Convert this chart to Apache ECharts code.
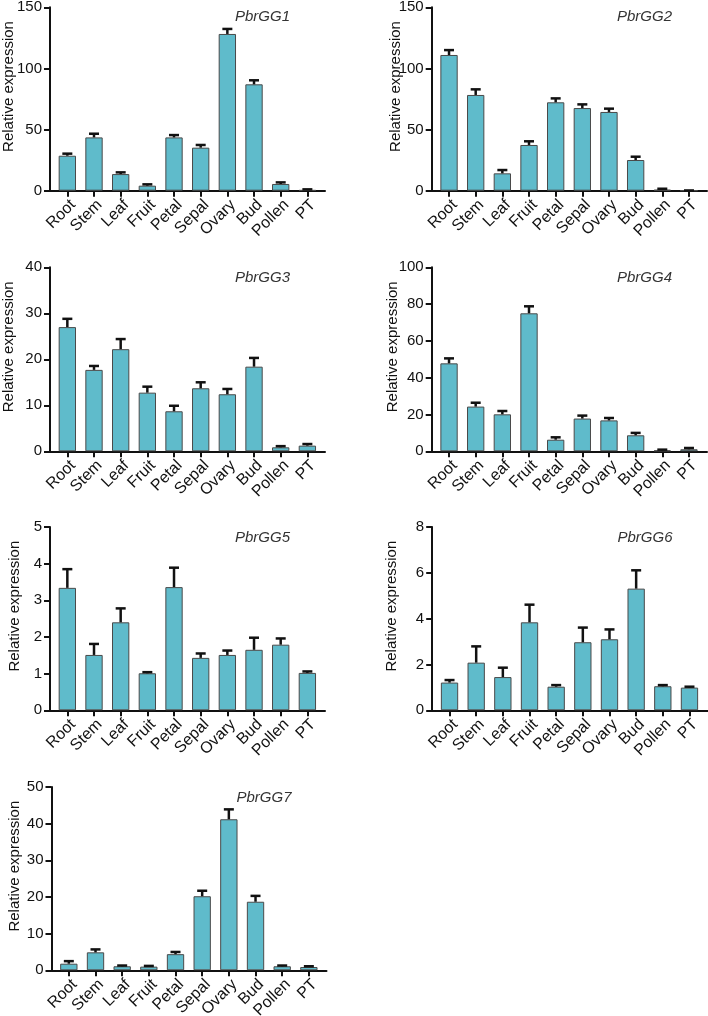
<!DOCTYPE html>
<html>
<head>
<meta charset="utf-8">
<script src="https://cdn.jsdelivr.net/npm/echarts@6/dist/echarts.min.js"></script>
<style>
  html, body { margin: 0; padding: 0; background: #fff; }
  #chart { width: 708px; height: 1016px; }
</style>
</head>
<body>
<div id="chart"></div>
<script>
// tissues on the x axis
const tissues = ['Root', 'Stem', 'Leaf', 'Fruit', 'Petal', 'Sepal', 'Ovary', 'Bud', 'Pollen', 'PT'];

// mean relative expression and upper error (SD) per gene
const gg1Mean = [28.6, 43.6, 13.6, 4.1, 43.6, 35.2, 128.2, 87.0, 5.5, 0.5];
const gg1Err  = [1.7, 3.0, 1.4, 1.1, 1.9, 2.2, 4.1, 3.3, 1.3, 0.6];
const gg2Mean = [111.0, 78.3, 14.2, 37.4, 72.3, 67.6, 64.4, 25.1, 0.8, 0.1];
const gg2Err  = [4.0, 4.6, 2.7, 3.0, 3.2, 3.0, 2.7, 2.7, 0.8, 0.1];
const gg3Mean = [27.0, 17.7, 22.2, 12.75, 8.7, 13.7, 12.4, 18.4, 0.87, 1.23];
const gg3Err  = [1.8, 0.85, 2.2, 1.3, 1.2, 1.3, 1.15, 1.9, 0.25, 0.35];
const gg4Mean = [47.8, 24.3, 20.1, 75.0, 6.3, 17.8, 16.8, 8.7, 0.5, 1.1];
const gg4Err  = [2.7, 2.1, 1.8, 3.8, 1.3, 1.6, 1.3, 1.3, 0.4, 0.7];
const gg5Mean = [3.34, 1.51, 2.40, 1.01, 3.36, 1.43, 1.51, 1.65, 1.79, 1.02];
const gg5Err  = [0.51, 0.30, 0.38, 0.03, 0.53, 0.12, 0.12, 0.33, 0.17, 0.04];
const gg6Mean = [1.21, 2.08, 1.45, 3.84, 1.03, 2.97, 3.10, 5.31, 1.05, 0.99];
const gg6Err  = [0.11, 0.71, 0.41, 0.77, 0.07, 0.64, 0.43, 0.80, 0.05, 0.04];
const gg7Mean = [1.8, 4.9, 1.1, 1.0, 4.4, 20.2, 41.2, 18.7, 1.1, 0.9];
const gg7Err  = [0.7, 0.8, 0.2, 0.2, 0.6, 1.5, 2.7, 1.6, 0.2, 0.2];

// gene names and y axis ticks
const genes = ['PbrGG1', 'PbrGG2', 'PbrGG3', 'PbrGG4', 'PbrGG5', 'PbrGG6', 'PbrGG7'];
const yMax  = [150, 150, 40, 100, 5, 8, 50];
const yStep = [50, 50, 10, 20, 1, 2, 10];
const means = [gg1Mean, gg2Mean, gg3Mean, gg4Mean, gg5Mean, gg6Mean, gg7Mean];
const errs  = [gg1Err, gg2Err, gg3Err, gg4Err, gg5Err, gg6Err, gg7Err];

// panel layout (px)
const cols = [
  {axis: 50, catLeft: 54, catRight: 320.7, lineEnd: 325, titleLeft: 235},
  {axis: 431.7, catLeft: 435.7, catRight: 702.3, lineEnd: 707, titleLeft: 617}
];
const rows = [[7.3, 190.7], [267.3, 451.3], [527, 710.3], [787, 970.3]];
const nameGaps = [33.5, 28, 33.5, 31, 28, 33, 29.5];
const shiftX = [0, 0, 0, 0, 0, 0.5, 1.5];

const FONT = "'Liberation Sans', Arial, sans-serif";
const INK = '#111';

function errorBar(params, api) {
  const base = api.coord([api.value(0), api.value(1)]);
  const top = api.coord([api.value(0), api.value(1) + api.value(2)]);
  const style = {stroke: INK, lineWidth: 2.5};
  return {
    type: 'group',
    children: [
      {type: 'line', shape: {x1: base[0], y1: base[1], x2: top[0], y2: top[1]}, style: style},
      {type: 'line', shape: {x1: top[0] - 5, y1: top[1], x2: top[0] + 5, y2: top[1]}, style: style}
    ]
  };
}

const option = {
  animation: false,
  textStyle: {fontFamily: FONT},
  title: [], grid: [], xAxis: [], yAxis: [], series: []
};

genes.forEach(function (gene, i) {
  const col = cols[i % 2];
  const row = rows[Math.floor(i / 2)];
  const h = row[1] - row[0];
  const dx = shiftX[i];
  const g = i * 2;

  option.title.push({
    text: gene, left: col.titleLeft + dx, top: row[0] + (i < 2 ? 2 : 3), padding: 0,
    textStyle: {fontSize: 15, fontStyle: 'italic', fontWeight: 'normal', color: '#333', fontFamily: FONT}
  });

  // grid with the visible y axis and the full-length x axis line
  option.grid.push({
    left: col.axis + dx, top: row[0], width: col.lineEnd - col.axis, height: h,
    outerBoundsMode: 'none'
  });
  // grid holding the bars and category labels
  option.grid.push({
    left: col.catLeft + dx, top: row[0], width: col.catRight - col.catLeft, height: h,
    outerBoundsMode: 'none'
  });

  option.xAxis.push({
    gridIndex: g, type: 'value', min: 0, max: 1,
    axisLine: {show: true, lineStyle: {color: INK, width: 2}},
    axisTick: {show: false}, axisLabel: {show: false}, splitLine: {show: false}
  });
  option.xAxis.push({
    gridIndex: g + 1, type: 'category', data: tissues,
    axisLine: {show: true, lineStyle: {color: INK, width: 2}},
    axisTick: {show: true, alignWithLabel: true, length: 6, lineStyle: {color: INK, width: 2}},
    axisLabel: {
      interval: 0, rotate: 45, fontSize: 16, margin: 6, color: INK, fontFamily: FONT,
      align: 'right', verticalAlign: 'top'
    }
  });

  option.yAxis.push({
    gridIndex: g, type: 'value', min: 0, max: yMax[i], interval: yStep[i],
    axisLine: {show: true, lineStyle: {color: INK, width: 2}},
    axisTick: {show: true, length: 6, lineStyle: {color: INK, width: 2}},
    axisLabel: {fontSize: 15, margin: 8, color: INK, fontFamily: FONT},
    splitLine: {show: false},
    name: 'Relative expression', nameLocation: 'middle', nameGap: nameGaps[i],
    nameMoveOverlap: false,
    nameTextStyle: {fontSize: 15, color: INK, fontFamily: FONT, padding: [0, 0, 0, 25]}
  });
  option.yAxis.push({gridIndex: g + 1, type: 'value', min: 0, max: yMax[i], show: false});

  option.series.push({
    type: 'bar', xAxisIndex: g + 1, yAxisIndex: g + 1,
    data: means[i], barCategoryGap: '35%',
    itemStyle: {color: '#5FBBCB', borderColor: '#4a4a4a', borderWidth: 1}
  });
  option.series.push({
    type: 'custom', xAxisIndex: g + 1, yAxisIndex: g + 1, z: 3,
    renderItem: errorBar,
    data: means[i].map(function (m, k) { return [k, m, errs[i][k]]; })
  });
});

const chart = echarts.init(document.getElementById('chart'));
chart.setOption(option);
</script>
</body>
</html>
